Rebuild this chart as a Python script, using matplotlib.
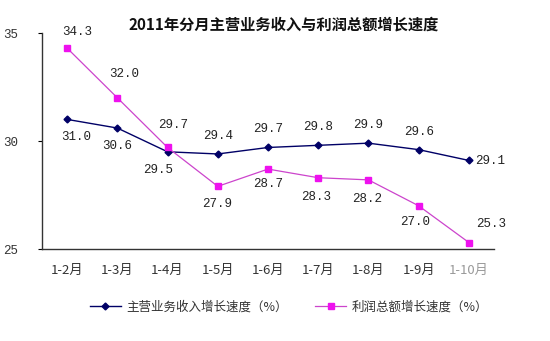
import matplotlib.pyplot as plt

plt.rcParams['font.family'] = ['Noto Sans CJK SC', 'DejaVu Sans']

months = ['1-2月', '1-3月', '1-4月', '1-5月', '1-6月', '1-7月', '1-8月', '1-9月', '1-10月']
revenue = [31.0, 30.6, 29.5, 29.4, 29.7, 29.8, 29.9, 29.6, 29.1]
profit = [34.3, 32.0, 29.7, 27.9, 28.7, 28.3, 28.2, 27.0, 25.3]
yticks = [25, 30, 35]

# label offsets in pixels (dx, dy) relative to each point
rev_off = [(9, -18), (0, -18), (-9, -18), (0, 18), (0, 18), (0, 18), (0, 18), (0, 18), (21, -1)]
prof_off = [(10, 16), (7, 24), (6, 22), (-1, -18), (0, -15), (-2, -19), (-1, -19), (-4, -16), (22, 19)]

num_font = ['Liberation Mono', 'DejaVu Sans Mono']

fig = plt.figure(figsize=(5.5, 3.41), dpi=100)
ax = fig.add_axes([42 / 550, 1 - 249 / 341, 452 / 550, 216 / 341])

x = range(len(months))
ax.plot(x, revenue, color='#000066', lw=1.0, marker='D', ms=3.5,
        label='主营业务收入增长速度（%）')
ax.plot(x, profit, color='#CC44CC', lw=0.9, marker='s', ms=5,
        mfc='#EE11EE', mec='#EE11EE', label='利润总额增长速度（%）')

for i, v in enumerate(revenue):
    ax.annotate(f'{v:.1f}', (i, v), xytext=rev_off[i], textcoords='offset pixels',
                ha='center', va='center', fontsize=9, color='#222222', family=num_font)
for i, v in enumerate(profit):
    ax.annotate(f'{v:.1f}', (i, v), xytext=prof_off[i], textcoords='offset pixels',
                ha='center', va='center', fontsize=9, color='#222222', family=num_font)

ax.set_xlim(-0.5, len(months) - 0.5)
ax.set_ylim(25, 35)
ax.set_yticks(yticks)
ax.set_yticklabels([str(t) for t in yticks], family=num_font)
ax.set_xticks(list(x))
ax.set_xticklabels(months, fontsize=9.5, color='#333333')
ax.get_xticklabels()[-1].set_color('#999999')
ax.tick_params(axis='x', length=0, pad=11)
ax.tick_params(axis='y', length=3, pad=14, labelsize=9, labelcolor='#333333')

for side in ['top', 'right']:
    ax.spines[side].set_visible(False)
for side in ['left', 'bottom']:
    ax.spines[side].set_color('#333333')
    ax.spines[side].set_linewidth(1.0)

fig.suptitle('2011年分月主营业务收入与利润总额增长速度', x=0.515, y=1 - 25 / 341,
             va='center', fontsize=11, fontweight='bold', color='#111111')

fig.legend(loc='center', bbox_to_anchor=(0.525, 1 - 307 / 341), ncol=2,
           frameon=False, fontsize=9, handlelength=2.5, columnspacing=2.2,
           handletextpad=0.4, labelcolor='#333333')

fig.savefig('out.png', dpi=100, facecolor='white')
